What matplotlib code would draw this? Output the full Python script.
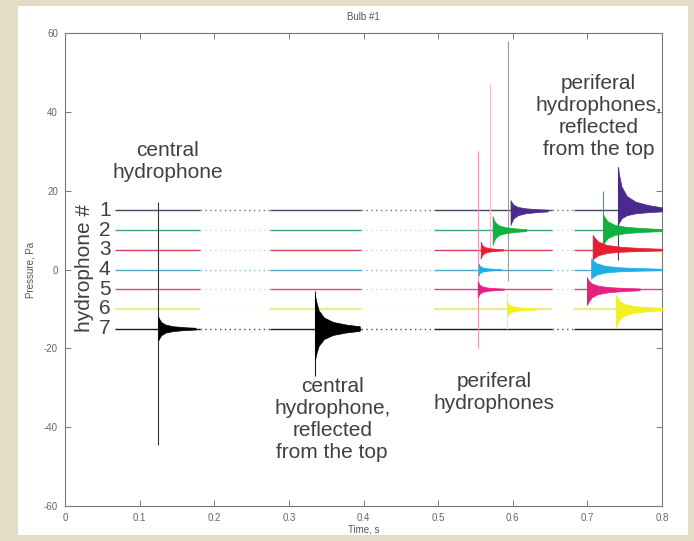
import matplotlib.pyplot as plt
from matplotlib.patches import Rectangle

plt.rcParams['font.family'] = ['Liberation Sans', 'DejaVu Sans']
plt.rcParams['axes.unicode_minus'] = False

# hydrophone traces, stacked on the pressure axis
phones = [1, 2, 3, 4, 5, 6, 7]
offsets = [15, 10, 5, 0, -5, -10, -15]
trace_colors = ['#4a4466', '#3aa873', '#d8405a', '#4aa8c8', '#d04a8a', '#ecec8a', '#1a1a1a']
burst_colors = ['#4a2a8e', '#12b040', '#e61e32', '#1eaee6', '#e6207c', '#f2f020', '#000000']
gap_alpha = [0.8, 0.3, 0.3, 0.7, 0.3, 0.25, 0.8]

# recorded windows (s) and the sparse stretches between them
windows = [(0.067, 0.181), (0.275, 0.396), (0.494, 0.652), (0.682, 0.800)]
gaps = [(0.181, 0.275), (0.396, 0.494), (0.652, 0.682)]

# bursts: hydrophone, onset (s), swing above / below the trace (Pa), ring-down (s)
burst_phone = [7, 7, 1, 2, 3, 4, 5, 6, 1, 2, 3, 4, 5, 6]
burst_t0 = [0.125, 0.335, 0.597, 0.573, 0.557, 0.554, 0.553, 0.592,
            0.741, 0.721, 0.707, 0.705, 0.700, 0.738]
burst_up = [3.0, 8.5, 2.6, 3.5, 2.0, 1.5, 2.0, 2.0, 11.0, 4.0, 3.8, 2.8, 2.7, 3.7]
burst_dn = [3.0, 8.0, 3.7, 3.7, 2.2, 1.5, 2.0, 2.0, 3.7, 3.7, 2.5, 2.3, 3.8, 4.8]
burst_len = [0.05, 0.06, 0.05, 0.045, 0.03, 0.03, 0.035, 0.04,
             0.059, 0.079, 0.093, 0.095, 0.07, 0.062]

# ring-down envelope: fraction of duration vs fraction of first swing
env_x = [0.0, 0.02, 0.08, 0.2, 0.4, 0.7, 1.0]
env_a = [1.0, 0.85, 0.55, 0.33, 0.2, 0.12, 0.07]

# first sharp spikes of each arrival
spike_t = [0.125, 0.335, 0.553, 0.570, 0.593, 0.592, 0.700, 0.721, 0.741]
spike_top = [17, -5.5, 30, 47, 58, -6, -2, 20, 26]
spike_bot = [-44.5, -27, -20, 5, -3, -15, -9, 6, 2.5]
spike_color = ['#333333', '#222222', '#e89ab8', '#f0b8c8', '#9a9a9a',
               '#eeee70', '#e0207a', '#20b050', '#3a3a5a']

xticks = [0, 0.1, 0.2, 0.3, 0.4, 0.5, 0.6, 0.7, 0.8]
xticklabels = ['0', '0.1', '0.2', '0.3', '0.4', '0.5', '0.6', '0.7', '0.8']
yticks = [-60, -40, -20, 0, 20, 40, 60]

W, H = 694, 541
fig = plt.figure(figsize=(W / 100, H / 100), dpi=100, facecolor='#e3dcc6')
fig.patches.append(Rectangle((18 / W, 6 / H), 670 / W, 529 / H, transform=fig.transFigure,
                             facecolor='white', edgecolor='none', zorder=-1))
ax = fig.add_axes([65 / W, 1 - 506 / H, 597 / W, 473 / H])

for n, off, c, ga in zip(phones, offsets, trace_colors, gap_alpha):
    lw = 1.6 if n == 6 else 1.0
    for a, b in windows:
        ax.plot([a, b], [off, off], color=c, lw=lw, solid_capstyle='butt', zorder=2)
    for a, b in gaps:
        ax.plot([a, b], [off, off], color=c, lw=1.0, alpha=ga,
                linestyle=(0, (1, 2.5)), zorder=2)
    ax.text(0.061, off, str(n), ha='right', va='center', fontsize=15, color='#404040')

for t, top, bot, c in zip(spike_t, spike_top, spike_bot, spike_color):
    ax.vlines(t, bot, top, color=c, lw=0.8, zorder=3)

for n, t0, up, dn, ln in zip(burst_phone, burst_t0, burst_up, burst_dn, burst_len):
    off = offsets[n - 1]
    c = burst_colors[n - 1]
    tt = [t0 + f * ln for f in env_x]
    ax.fill_between(tt, [off + up * f for f in env_a], [off - dn * f for f in env_a],
                    color=c, lw=0.5, zorder=4)

txt = dict(ha='center', va='center', fontsize=15, color='#404040', linespacing=1.2)
ax.text(0.138, 27.5, 'central\nhydrophone', **txt)
ax.text(0.358, -38, 'central\nhydrophone,\nreflected\nfrom the top', **txt)
ax.text(0.575, -31.2, 'periferal\nhydrophones', **txt)
ax.text(0.715, 38.7, 'periferal\nhydrophones,\nreflected\nfrom the top', **txt)
ax.text(0.026, 0.5, 'hydrophone #', rotation=90, ha='center', va='center',
        fontsize=15, color='#404040')

ax.set_xlim(0, 0.8)
ax.set_ylim(-60, 60)
ax.set_xticks(xticks)
ax.set_xticklabels(xticklabels)
ax.set_yticks(yticks)
ax.tick_params(direction='in', length=4, width=0.6, labelsize=7, colors='#666666',
               top=True, right=True, pad=5)
for s in ax.spines.values():
    s.set_color('#777777')
    s.set_linewidth(0.8)
ax.set_title('Bulb #1', fontsize=7, color='#555555', pad=9)
ax.set_xlabel('Time, s', fontsize=7, color='#555555', labelpad=1)
ax.set_ylabel('Pressure, Pa', fontsize=7, color='#555555', labelpad=6)

fig.savefig('out.png', dpi=100, facecolor=fig.get_facecolor())
